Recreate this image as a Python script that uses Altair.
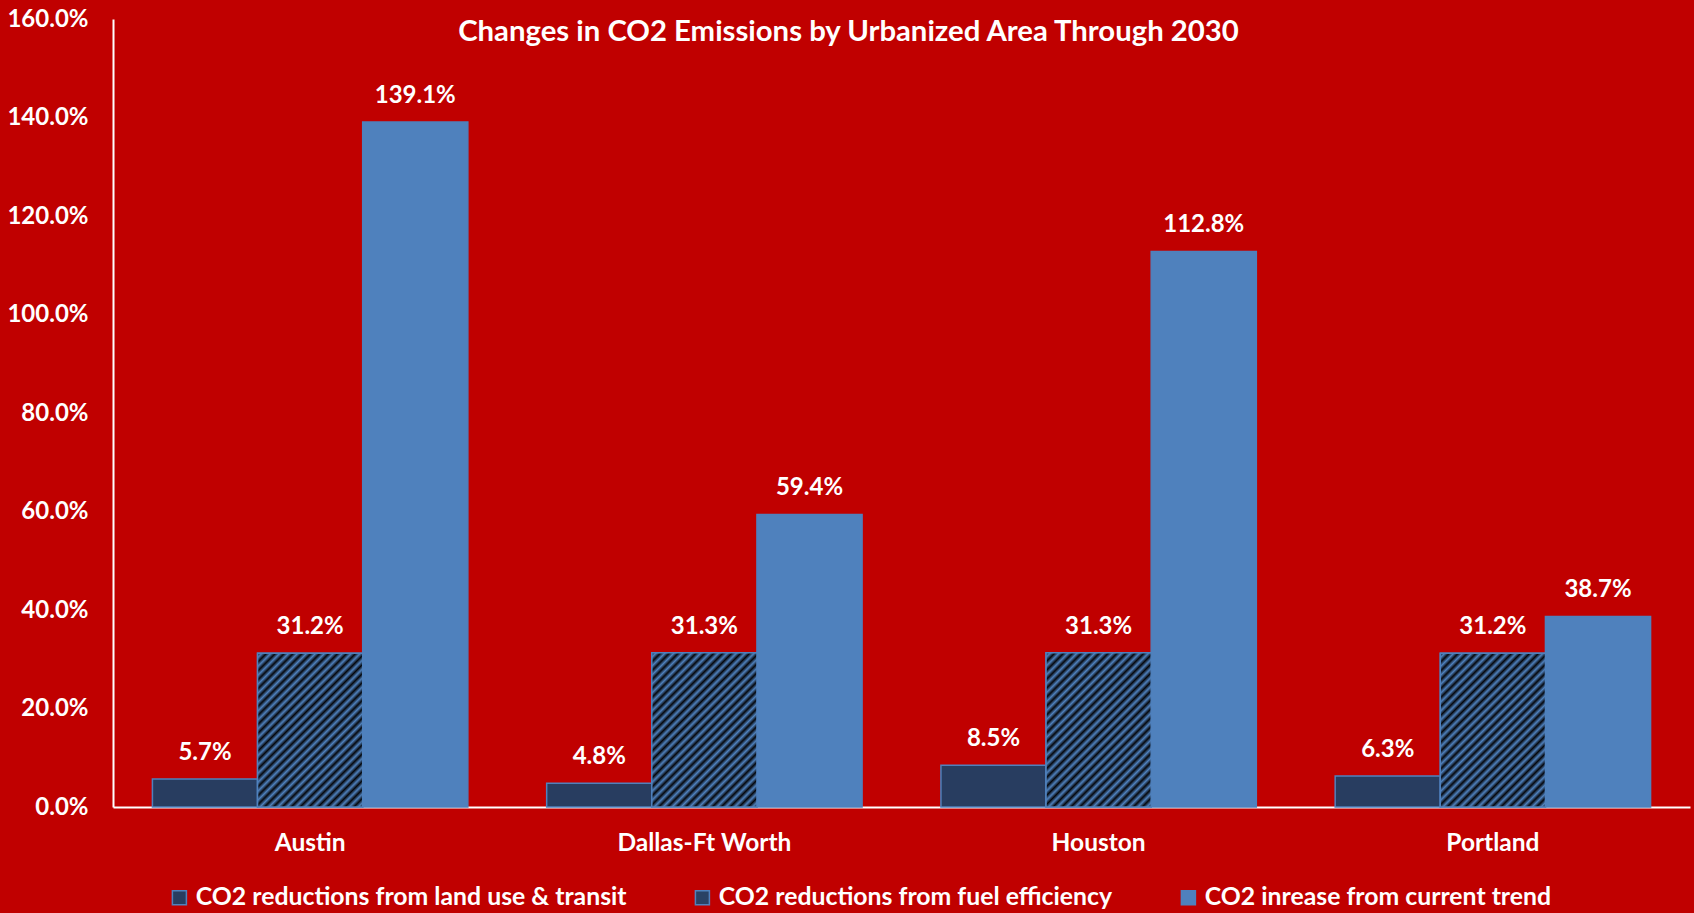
import altair as alt
import pandas as pd

cities = ["Austin", "Dallas-Ft Worth", "Houston", "Portland"]
series_names = [
    "CO2 reductions from land use & transit",
    "CO2 reductions from fuel efficiency",
    "CO2 inrease from current trend",
]
land_use = [5.7, 4.8, 8.5, 6.3]
fuel_eff = [31.2, 31.3, 31.3, 31.2]
current_trend = [139.1, 59.4, 112.8, 38.7]
y_ticks = [0, 20, 40, 60, 80, 100, 120, 140, 160]

rows = []
for i, c in enumerate(cities):
    for s, vals in zip(series_names, [land_use, fuel_eff, current_trend]):
        rows.append({"city": c, "series": s, "value": vals[i] / 100})
df = pd.DataFrame(rows)

BG = "#C00000"
BLUE = "#4F81BD"
DOT = "#283D60"
HATCH_LEG = "#2A4265"
FONT = "Lato"

W, H = 1577, 788
YMAX = 1.6

# geometry of one hatched bar (used to keep the stripes at 45 degrees)
step = W / 4
bar_w = step * 0.8 / 3
bar_h = 0.3125 / YMAX * H
s = (bar_w + bar_h) / (bar_w ** 2 + bar_h ** 2)
gx2, gy2 = s * bar_w, s * bar_h
diag = (bar_w + bar_h) / 2 ** 0.5
N = int(round(diag / 6.4))
stops = []
for k in range(N):
    stops.append(alt.GradientStop(offset=k / N, color="#05070c"))
    stops.append(alt.GradientStop(offset=(k + 0.5) / N, color=BLUE))
stops.append(alt.GradientStop(offset=1.0, color="#05070c"))
hatch_fill = alt.Gradient(gradient="linear", stops=stops, x1=0, y1=0, x2=gx2, y2=gy2)

x = alt.X(
    "city:N",
    sort=cities,
    scale=alt.Scale(paddingInner=0.2, paddingOuter=0.1),
    axis=alt.Axis(title=None, labelAngle=0, labelBaseline="middle", labelPadding=36,
                  labelFontSize=24.5),
)
xo = alt.XOffset("series:N", sort=series_names,
                 scale=alt.Scale(domain=series_names, paddingInner=0, paddingOuter=0))
y = alt.Y(
    "value:Q",
    scale=alt.Scale(domain=[0, YMAX], nice=False),
    axis=alt.Axis(title=None, format=".1%", values=[v / 100 for v in y_ticks], labelPadding=25),
)

base = alt.Chart(df).encode(x=x, xOffset=xo, y=y)

bars = base.mark_bar(stroke=BLUE, strokeWidth=1.5).encode(
    color=alt.Color(
        "series:N",
        sort=series_names,
        scale=alt.Scale(domain=series_names, range=[DOT, HATCH_LEG, BLUE]),
        legend=alt.Legend(
            title=None,
            orient="none",
            direction="horizontal",
            legendX=54,
            legendY=866,
            symbolType="square",
            symbolSize=196,
            symbolStrokeColor=BLUE,
            symbolStrokeWidth=1.5,
            symbolOpacity=1,
            labelColor="white",
            labelFont=FONT,
            labelFontWeight="bold",
            labelFontSize=24.8,
            labelLimit=1000,
            labelOffset=4,
            columnPadding=63,
        ),
    )
)

hatch = base.transform_filter(alt.datum.series == series_names[1]).mark_bar(
    fill=hatch_fill, stroke=BLUE, strokeWidth=1.5
)

labels = base.mark_text(
    dy=-26, baseline="middle", color="white", font=FONT, fontWeight="bold", fontSize=24
).encode(text=alt.Text("value:Q", format=".1%"))

chart = (
    alt.layer(bars, hatch, labels)
    .properties(
        width=W,
        height=H,
        background=BG,
        padding={"left": 113, "top": 19, "right": 4, "bottom": 106},
        autosize=alt.AutoSizeParams(type="none"),
        title=alt.TitleParams(
            "Changes in CO2 Emissions by Urbanized Area Through 2030",
            color="white",
            font=FONT,
            fontSize=29.3,
            fontWeight="bold",
            anchor="middle",
            frame="bounds",
            offset=-40,
        ),
    )
    .configure_view(stroke=None)
    .configure_axis(
        domainColor="white",
        domainWidth=2,
        ticks=False,
        tickSize=0,
        grid=False,
        labelColor="white",
        labelFont=FONT,
        labelFontWeight="bold",
        labelFontSize=24,
    )
)

chart.save("out.html", embed_options={"renderer": "svg", "actions": False})
